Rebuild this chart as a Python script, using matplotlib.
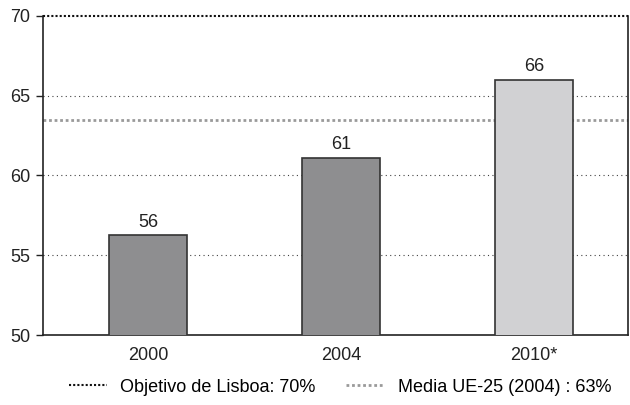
import matplotlib
matplotlib.use('Agg')
import matplotlib.pyplot as plt
from matplotlib.lines import Line2D

plt.rcParams['font.family'] = ['Liberation Sans', 'DejaVu Sans']

years = ['2000', '2004', '2010*']
values = [56.25, 61.1, 66.0]
labels = ['56', '61', '66']
bar_colors = ['#8e8e90', '#8e8e90', '#d1d1d3']
lisboa_target = 70
ue25_mean = 63.5
yticks = [50, 55, 60, 65, 70]

fig = plt.figure(figsize=(6.3, 4.05), dpi=100)
ax = fig.add_axes([43 / 630, 70 / 405, 585 / 630, 319 / 405])

x = range(len(years))
ax.bar(x, values, width=0.404, color=bar_colors, edgecolor='#333333', linewidth=1.2, zorder=3)
for xi, v, lab in zip(x, values, labels):
    ax.text(xi, v + 0.3, lab, ha='center', va='bottom', fontsize=13, color='#222222', zorder=4)

for g in [55, 60, 65]:
    ax.axhline(g, color='#444444', linestyle=(0, (1, 3)), linewidth=0.8, zorder=1)
ax.axhline(ue25_mean, color='#9a9a9a', linestyle=(0, (1, 1)), linewidth=2, zorder=2)
ax.axhline(lisboa_target, color='#111111', linestyle=(0, (1, 1)), linewidth=1.5, zorder=5, clip_on=False)

ax.set_xlim(-0.544, 2.487)
ax.set_ylim(50, 70)
ax.set_yticks(yticks)
ax.set_xticks(list(x))
ax.set_xticklabels(years)
ax.tick_params(axis='y', direction='out', length=5, labelsize=13, colors='#222222', width=1, pad=4)
ax.tick_params(axis='x', length=0, labelsize=13, colors='#222222', pad=9)
ax.spines['top'].set_visible(False)
for s in ['left', 'bottom', 'right']:
    ax.spines[s].set_color('#222222')
    ax.spines[s].set_linewidth(1.2)

handles = [
    Line2D([], [], color='#111111', linestyle=(0, (1, 1)), linewidth=1.5),
    Line2D([], [], color='#9a9a9a', linestyle=(0, (1, 1)), linewidth=2),
]
fig.legend(handles, ['Objetivo de Lisboa: 70%', 'Media UE-25 (2004) : 63%'],
           loc='center', bbox_to_anchor=(0.54, 0.044), ncol=2, frameon=False,
           fontsize=13, handlelength=2.1, handletextpad=0.75, columnspacing=1.7,
           borderpad=0, borderaxespad=0)

fig.savefig('out.png', dpi=100)
